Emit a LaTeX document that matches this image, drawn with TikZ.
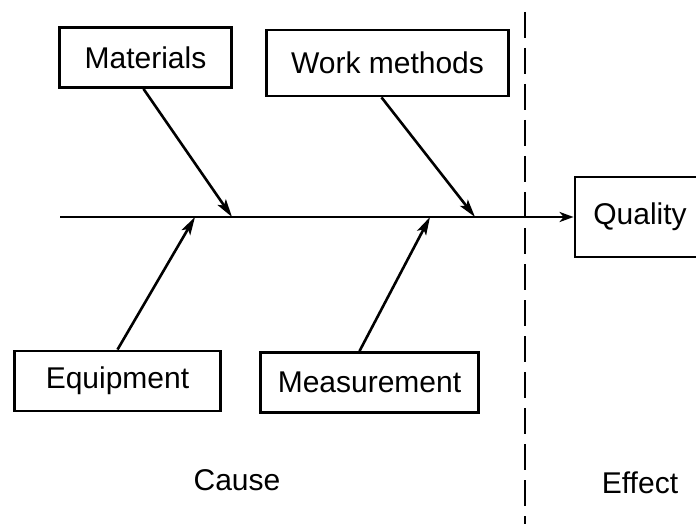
\documentclass[tikz,border=0pt]{standalone}
\usepackage{fontspec}
\setsansfont{Liberation Sans}
\usetikzlibrary{positioning, arrows.meta}

\begin{document}
\begin{tikzpicture}[
  x=0.5pt, y=-0.5pt,
  cause/.style={draw, line width=1.4pt, minimum height=30pt, inner sep=2pt,
                font=\sffamily\fontsize{15}{18}\selectfont},
  effect/.style={cause, minimum height=40pt},
  arr/.style={-{Stealth[length=9pt, width=5pt, inset=2pt]}, line width=1.3pt},
  spine/.style={-{Stealth[length=7pt, width=5pt, inset=2pt]}, line width=1.4pt},
  sep/.style={line width=1.4pt, dash pattern=on 13pt off 5pt},
  lbl/.style={font=\sffamily\fontsize{15}{18}\selectfont},
]
\useasboundingbox (0,0) rectangle (696,524);

% Cause boxes (top row)
\node[cause, minimum width=86pt] (mat) at (145.5,57.5) {Materials};
\node[cause, minimum width=121pt, minimum height=33pt] (wm) at (387.5,63) {Work methods};

% Cause boxes (bottom row)
\node[cause, minimum width=103pt] (eq) at (117.5,381) {Equipment};
\node[cause, minimum width=109pt] (meas) at (369.5,382.5) {Measurement};

% Effect box, cut off at the right edge
\node[effect, minimum width=65pt] (q) at (640,217) {Quality};

% Spine and where the causes join it
\coordinate (tail) at (60,217);
\coordinate (jeq) at (195,217);
\coordinate (jmat) at (232,217);
\coordinate (jmeas) at (430,217);
\coordinate (jwm) at (475,217);

% === Arrows ===
\draw[spine] (tail) -- (q.west);
\draw[arr] ([xshift=-1pt]mat.south) -- (jmat);
\draw[arr] ([xshift=-3pt]wm.south) -- (jwm);
\draw[arr] (eq.north) -- (jeq);
\draw[arr] ([xshift=-5pt]meas.north) -- (jmeas);

% Cause / effect divider
\coordinate (dtop) at (525,12);
\coordinate (dbot) at (525,524);
\draw[sep] (dtop) -- (dbot);

\node[lbl] (cause) at (237,480) {Cause};
\node[lbl] (eff) at (640,483) {Effect};

\end{tikzpicture}
\end{document}
